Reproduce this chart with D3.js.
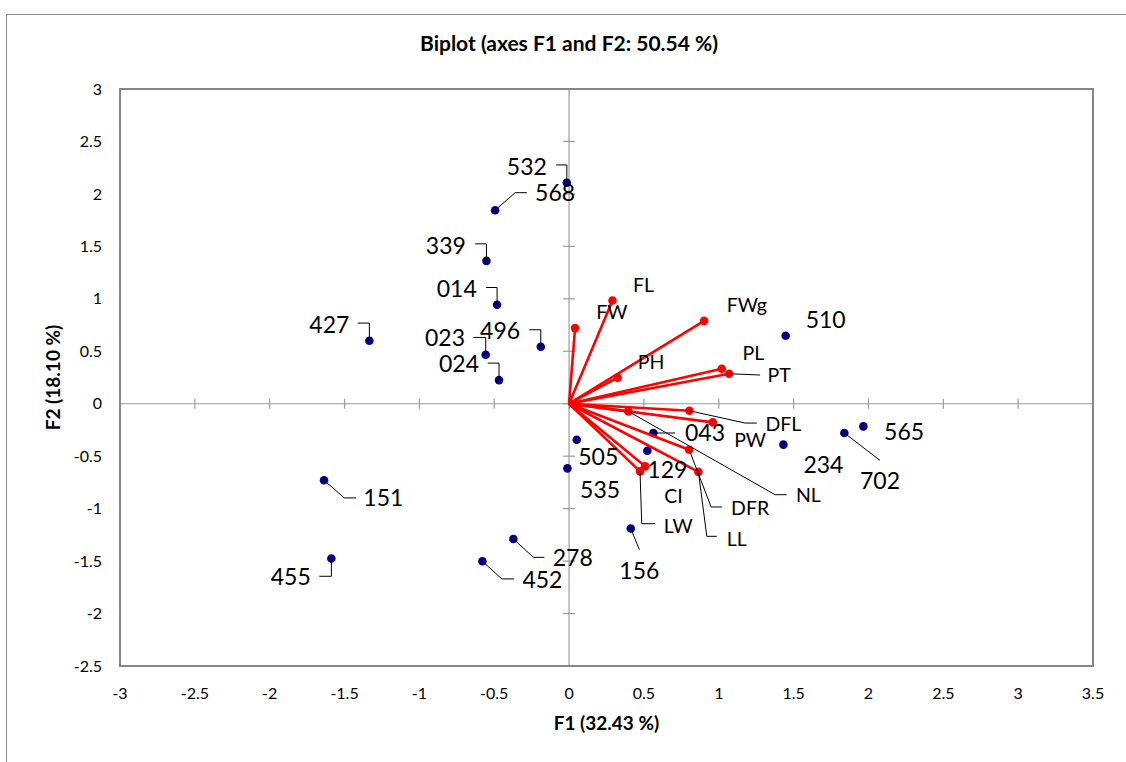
<!DOCTYPE html>
<html>
<head>
<meta charset="utf-8">
<script src="https://cdn.jsdelivr.net/npm/d3@7"></script>
<style>
  body { margin: 0; background: #fff; }
  svg { display: block; font-family: Lato, "Open Sans", sans-serif; }
</style>
</head>
<body>
<svg id="chart" width="1126" height="762"></svg>
<script>
// observations (F1, F2 scores)
var obsNames = ["532","568","339","014","427","023","496","024","510","043","505","129","535","234","702","565","156","151","455","278","452"];
var obsF1 = [-0.015,-0.494,-0.552,-0.481,-1.334,-0.557,-0.189,-0.468,1.447,0.563,0.051,0.523,-0.011,1.432,1.839,1.966,0.412,-1.637,-1.588,-0.372,-0.579];
var obsF2 = [2.107,1.844,1.362,0.943,0.600,0.467,0.543,0.225,0.648,-0.279,-0.343,-0.448,-0.616,-0.390,-0.279,-0.216,-1.190,-0.730,-1.476,-1.289,-1.502];

// variables (loadings)
var varNames = ["FW","FL","FWg","PH","PL","PT","DFL","PW","NL","DFR","LL","CI","LW"];
var varF1 = [0.040,0.290,0.902,0.325,1.020,1.069,0.804,0.960,0.396,0.802,0.864,0.508,0.474];
var varF2 = [0.721,0.984,0.790,0.248,0.333,0.286,-0.067,-0.178,-0.073,-0.438,-0.650,-0.597,-0.645];

var xTicks = [-3,-2.5,-2,-1.5,-1,-0.5,0,0.5,1,1.5,2,2.5,3,3.5];
var yTicks = [-2.5,-2,-1.5,-1,-0.5,0,0.5,1,1.5,2,2.5,3];

// label placement (pixels, relative to the point): [dx, dy, leader points...]
var obsLabelPos = {
  "532": [-40,-16, [[0,-17.7],[-10.7,-17.7]]],
  "568": [60,-17, [[20,-17.6],[31.7,-17.6]]],
  "339": [-40.6,-15.3, [[0,-17],[-11.3,-17]]],
  "014": [-40.3,-15.7, [[0,-17.3],[-11,-17.3]]],
  "427": [-40,-16, [[0,-17.7],[-11.6,-17.7]]],
  "023": [-40.7,-16.7, [[0,-17.3],[-12.4,-17.3]]],
  "496": [-40.7,-16, [[0,-17],[-11.4,-17]]],
  "024": [-40,-16, [[0,-17],[-11.3,-17]]],
  "510": [40,-16, []],
  "043": [51.7,0, [[21.7,0]]],
  "505": [21.6,17.3, []],
  "129": [20,19.7, []],
  "535": [32.7,22, []],
  "234": [40,20, []],
  "702": [35.7,48.4, [[35.7,27.4]]],
  "565": [40.7,6, []],
  "156": [8.6,42.7, [[8.6,21]]],
  "151": [59.3,17.6, [[20.3,17.6],[32,17.6]]],
  "455": [-40.6,18.3, [[0,17.7],[-12,17.7]]],
  "278": [59.4,19, [[20,18.4],[31,18.4]]],
  "452": [60,18.3, [[19.4,17.6],[31.7,17.6]]]
};
var varLabelPos = {
  "FW": [36.7,-15.6, []],
  "FL": [31,-15, []],
  "FWg": [42.7,-15.3, []],
  "PH": [33.3,-15.7, []],
  "PL": [31.6,-15.7, []],
  "PT": [50,1.7, [[31,1.3]]],
  "DFL": [94,13.3, [[55.7,12.3],[67.4,12.3]]],
  "PW": [37.3,18, []],
  "NL": [180,84, [[146.7,83.3],[158.4,83.3]]],
  "DFR": [61,58.3, [[22,57.3],[32.7,57.3]]],
  "LL": [38.4,67.7, [[8.4,64.4],[18.4,64.4]]],
  "CI": [28.3,30, []],
  "LW": [38.3,54.3, [[1.7,52.3],[15,52.3]]]
};

var svg = d3.select("#chart");
var plot = { left: 120, right: 1093, top: 89, bottom: 666 };

var x = d3.scaleLinear().domain([-3, 3.5]).range([plot.left, plot.right]);
var y = d3.scaleLinear().domain([-2.5, 3]).range([plot.bottom, plot.top]);

// outer chart frame
svg.append("rect")
  .attr("x", 6.5).attr("y", 14.5)
  .attr("width", 1140).attr("height", 780)
  .attr("fill", "none").attr("stroke", "#8c8c8c").attr("stroke-width", 1);

// title
svg.append("text")
  .attr("x", 569).attr("y", 44).attr("dy", "0.35em")
  .attr("text-anchor", "middle")
  .attr("font-weight", "bold").attr("font-size", 21)
  .text("Biplot (axes F1 and F2: 50.54 %)");

// zero axes with crossing ticks
var axisColor = "#9a9a9a";
svg.append("line")
  .attr("x1", x(0)).attr("x2", x(0)).attr("y1", plot.top).attr("y2", plot.bottom)
  .attr("stroke", axisColor).attr("stroke-width", 1.2);
svg.append("line")
  .attr("x1", plot.left).attr("x2", plot.right).attr("y1", y(0)).attr("y2", y(0))
  .attr("stroke", axisColor).attr("stroke-width", 1.2);

svg.append("g").selectAll("line").data(xTicks).join("line")
  .attr("x1", function(d) { return x(d); }).attr("x2", function(d) { return x(d); })
  .attr("y1", y(0) - 5).attr("y2", y(0) + 5)
  .attr("stroke", axisColor).attr("stroke-width", 1.2);
svg.append("g").selectAll("line").data(yTicks).join("line")
  .attr("x1", x(0) - 6).attr("x2", x(0) + 6)
  .attr("y1", function(d) { return y(d); }).attr("y2", function(d) { return y(d); })
  .attr("stroke", axisColor).attr("stroke-width", 1.2);

// plot border
svg.append("rect")
  .attr("x", plot.left).attr("y", plot.top)
  .attr("width", plot.right - plot.left).attr("height", plot.bottom - plot.top)
  .attr("fill", "none").attr("stroke", "#868686").attr("stroke-width", 2);

// tick labels
svg.append("g").selectAll("text").data(xTicks).join("text")
  .attr("x", function(d) { return x(d); }).attr("y", plot.bottom + 27).attr("dy", "0.35em")
  .attr("text-anchor", "middle").attr("font-size", 16)
  .text(function(d) { return d; });
svg.append("g").selectAll("text").data(yTicks).join("text")
  .attr("x", plot.left - 18).attr("y", function(d) { return y(d); }).attr("dy", "0.35em")
  .attr("text-anchor", "end").attr("font-size", 16)
  .text(function(d) { return d; });

// axis titles
svg.append("text")
  .attr("x", (plot.left + plot.right) / 2).attr("y", 723).attr("dy", "0.35em")
  .attr("text-anchor", "middle").attr("font-weight", "bold").attr("font-size", 19)
  .text("F1 (32.43 %)");
svg.append("text")
  .attr("transform", "translate(53," + ((plot.top + plot.bottom) / 2) + ") rotate(-90)")
  .attr("dy", "0.35em")
  .attr("text-anchor", "middle").attr("font-weight", "bold").attr("font-size", 19)
  .text("F2 (18.10 %)");

var obs = obsNames.map(function(n, i) { return { name: n, f1: obsF1[i], f2: obsF2[i] }; });
var vars = varNames.map(function(n, i) { return { name: n, f1: varF1[i], f2: varF2[i] }; });

var leader = function(d, pos) {
  var px = x(d.f1), py = y(d.f2);
  return [[px, py]].concat(pos[2].map(function(p) { return [px + p[0], py + p[1]]; }));
};
var lineGen = d3.line();

// observation points
svg.append("g").selectAll("circle").data(obs).join("circle")
  .attr("cx", function(d) { return x(d.f1); })
  .attr("cy", function(d) { return y(d.f2); })
  .attr("r", 4.3)
  .attr("fill", "#000080");

// variable vectors
svg.append("g").selectAll("line").data(vars).join("line")
  .attr("x1", x(0)).attr("y1", y(0))
  .attr("x2", function(d) { return x(d.f1); })
  .attr("y2", function(d) { return y(d.f2); })
  .attr("stroke", "#ff0000").attr("stroke-width", 2.6);
svg.append("g").selectAll("circle").data(vars).join("circle")
  .attr("cx", function(d) { return x(d.f1); })
  .attr("cy", function(d) { return y(d.f2); })
  .attr("r", 4.3)
  .attr("fill", "#ff0000");

// leader lines
svg.append("g").selectAll("path").data(obs.filter(function(d) { return obsLabelPos[d.name][2].length; })).join("path")
  .attr("d", function(d) { return lineGen(leader(d, obsLabelPos[d.name])); })
  .attr("fill", "none").attr("stroke", "#000").attr("stroke-width", 1);
svg.append("g").selectAll("path").data(vars.filter(function(d) { return varLabelPos[d.name][2].length; })).join("path")
  .attr("d", function(d) { return lineGen(leader(d, varLabelPos[d.name])); })
  .attr("fill", "none").attr("stroke", "#000").attr("stroke-width", 1);

// labels
svg.append("g").selectAll("text").data(obs).join("text")
  .attr("x", function(d) { return x(d.f1) + obsLabelPos[d.name][0]; })
  .attr("y", function(d) { return y(d.f2) + obsLabelPos[d.name][1]; })
  .attr("dy", "0.35em").attr("text-anchor", "middle")
  .attr("font-size", 23)
  .text(function(d) { return d.name; });
svg.append("g").selectAll("text").data(vars).join("text")
  .attr("x", function(d) { return x(d.f1) + varLabelPos[d.name][0]; })
  .attr("y", function(d) { return y(d.f2) + varLabelPos[d.name][1]; })
  .attr("dy", "0.35em").attr("text-anchor", "middle")
  .attr("font-size", 19.5)
  .text(function(d) { return d.name; });
</script>
</body>
</html>
